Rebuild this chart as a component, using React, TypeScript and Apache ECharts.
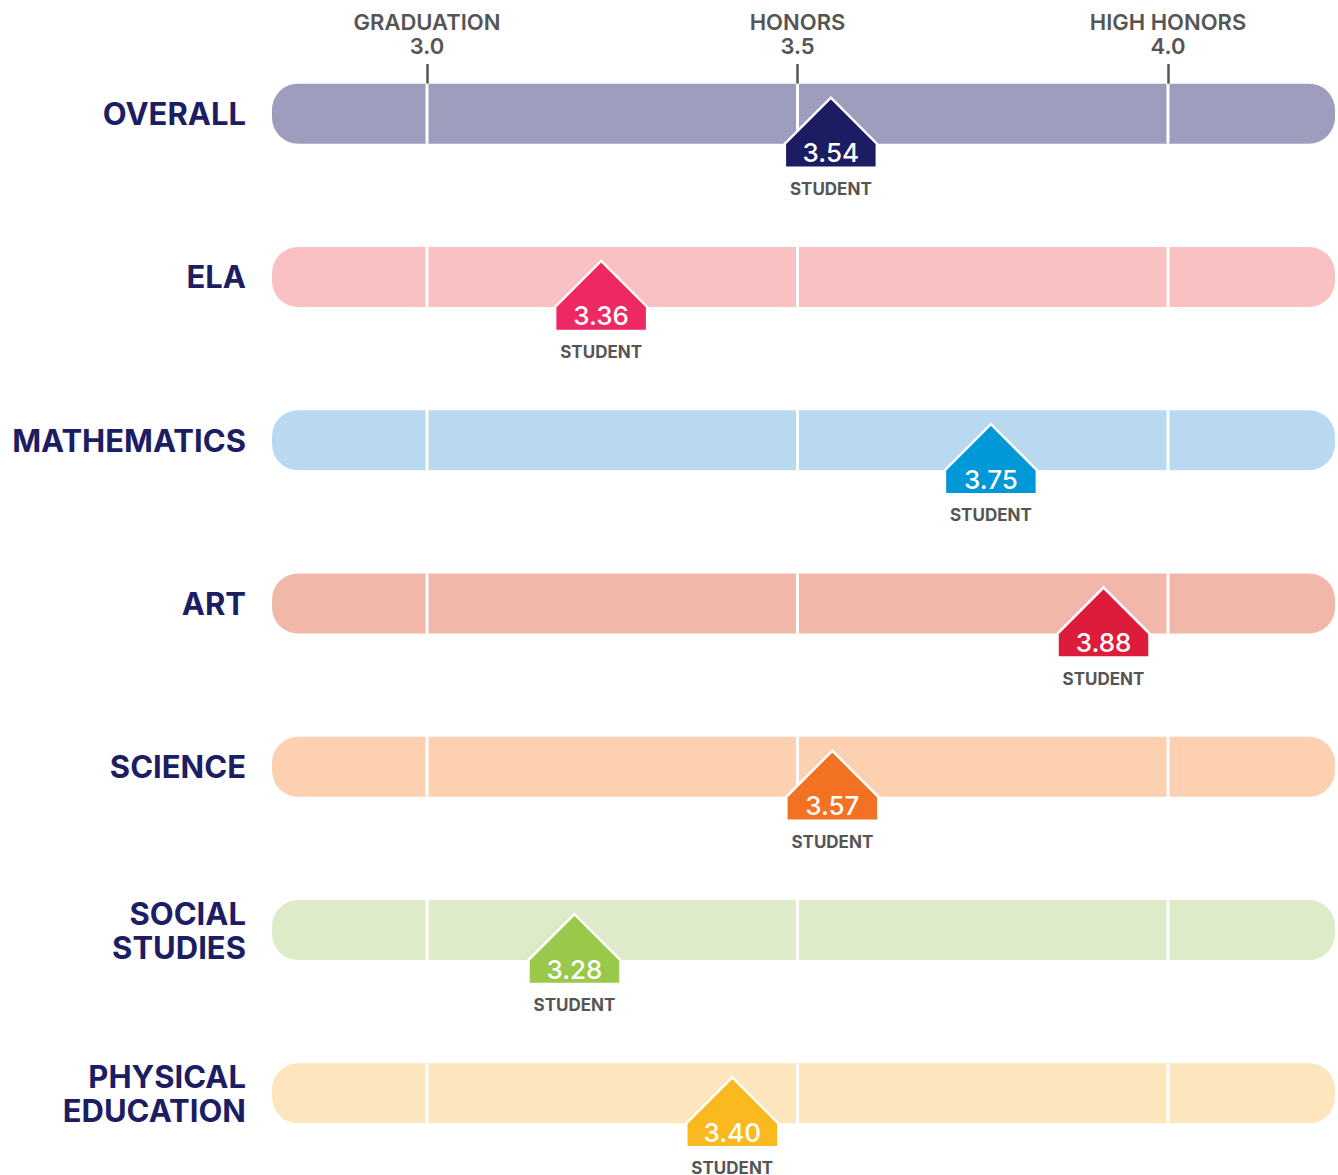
import React, { useEffect, useRef } from "react";
import * as echarts from "echarts";

const subjects = ["OVERALL", "ELA", "MATHEMATICS", "ART", "SCIENCE", "SOCIAL\nSTUDIES", "PHYSICAL\nEDUCATION"];
const scoreLabels = ["3.54", "3.36", "3.75", "3.88", "3.57", "3.28", "3.40"];
// where each marker sits on the GPA scale
const markerAt = [3.545, 3.235, 3.761, 3.913, 3.547, 3.199, 3.412];
const trackColors = ["#9f9dbe", "#f9c1c1", "#b9d9f1", "#f1b8aa", "#fcd0b0", "#deebc8", "#fde5bd"];
const markerColors = ["#1c1c62", "#ee2862", "#0098d7", "#dc1c3a", "#f37122", "#99c84a", "#fbb920"];
const thresholdValues = [3.0, 3.5, 4.0];
const thresholdNames = ["GRADUATION", "HONORS", "HIGH HONORS"];
const thresholdTicks = ["3.0", "3.5", "4.0"];
const scaleMin = 2.7908;
const scaleMax = 4.2254;

const FONT = "Inter, 'Open Sans', sans-serif";

export default function App() {
  const ref = useRef<HTMLDivElement>(null);
  useEffect(() => {
    if (!ref.current) return;
    const chart = echarts.init(ref.current, undefined, { renderer: "svg" });
    const trackData = subjects.map((_, i) => [scaleMin, scaleMax, i]);
    const markerData = subjects.map((_, i) => [markerAt[i], i, scoreLabels[i]]);
    chart.setOption({
      animation: false,
      backgroundColor: "#ffffff",
      grid: [
        { left: 272, width: 1063, top: 32, height: 1145 },
        { left: 272, width: 1063, top: 84, height: 1 },
      ],
      xAxis: [
        { type: "value", gridIndex: 0, min: scaleMin, max: scaleMax, show: false },
        {
          type: "value",
          gridIndex: 1,
          position: "top",
          min: scaleMin,
          max: scaleMax,
          axisLine: { show: false },
          splitLine: { show: false },
          axisTick: {
            show: true,
            customValues: thresholdValues,
            length: 21,
            lineStyle: { color: "#555555", width: 2.5 },
          },
          axisLabel: {
            show: true,
            customValues: thresholdValues,
            margin: 26,
            color: "#555555",
            fontFamily: FONT,
            fontWeight: 600,
            fontSize: 22,
            lineHeight: 24,
            formatter: (v: number) => {
              const k = thresholdValues.findIndex((t) => Math.abs(t - v) < 1e-6);
              return k >= 0 ? thresholdNames[k] + "\n" + thresholdTicks[k] : "";
            },
          },
        },
      ],
      yAxis: [
        {
          type: "category",
          gridIndex: 0,
          data: subjects,
          inverse: true,
          axisLine: { show: false },
          axisTick: { show: false },
          splitLine: { show: false },
          axisLabel: {
            margin: 26,
            color: "#1c1d63",
            fontFamily: FONT,
            fontWeight: 700,
            fontSize: 31,
            lineHeight: 34,
            padding: [6, 0, 0, 0],
          },
        },
        { type: "value", gridIndex: 1, show: false },
      ],
      series: [
        {
          type: "custom",
          xAxisIndex: 0,
          yAxisIndex: 0,
          data: trackData,
          encode: { x: [0, 1], y: 2 },
          z: 1,
          renderItem: (params: any, api: any) => {
            const i = api.value(2);
            const a = api.coord([api.value(0), i]);
            const b = api.coord([api.value(1), i]);
            const h = 60;
            const children: any[] = [
              {
                type: "rect",
                shape: { x: a[0], y: a[1] - h / 2, width: b[0] - a[0], height: h, r: 26 },
                style: { fill: trackColors[params.dataIndex] },
              },
            ];
            thresholdValues.forEach((t) => {
              const p = api.coord([t, i]);
              children.push({
                type: "line",
                shape: { x1: p[0], y1: p[1] - h / 2, x2: p[0], y2: p[1] + h / 2 },
                style: { stroke: "#ffffff", lineWidth: 3 },
              });
            });
            return { type: "group", children };
          },
        },
        {
          type: "custom",
          xAxisIndex: 0,
          yAxisIndex: 0,
          data: markerData,
          encode: { x: 0, y: 1 },
          z: 5,
          renderItem: (params: any, api: any) => {
            const p = api.coord([api.value(0), api.value(1)]);
            const x = p[0];
            const cy = p[1];
            const hw = 46;
            const col = markerColors[params.dataIndex];
            return {
              type: "group",
              children: [
                {
                  type: "polygon",
                  shape: {
                    points: [
                      [x, cy - 16],
                      [x + hw, cy + 30],
                      [x + hw, cy + 54],
                      [x - hw, cy + 54],
                      [x - hw, cy + 30],
                    ],
                  },
                  style: { fill: col, stroke: "#ffffff", lineWidth: 2.5 },
                },
                {
                  type: "text",
                  x,
                  y: cy + 39,
                  style: {
                    text: scoreLabels[params.dataIndex],
                    fill: "#ffffff",
                    font: `500 26px ${FONT}`,
                    align: "center",
                    verticalAlign: "middle",
                  },
                },
                {
                  type: "text",
                  x,
                  y: cy + 75,
                  style: {
                    text: "STUDENT",
                    fill: "#555555",
                    font: `700 17px ${FONT}`,
                    align: "center",
                    verticalAlign: "middle",
                  },
                },
              ],
            };
          },
        },
      ],
    });
    return () => chart.dispose();
  }, []);
  return (
    <div
      ref={ref}
      style={{ position: "fixed", left: 0, top: 0, width: 1338, height: 1175 }}
    />
  );
}
